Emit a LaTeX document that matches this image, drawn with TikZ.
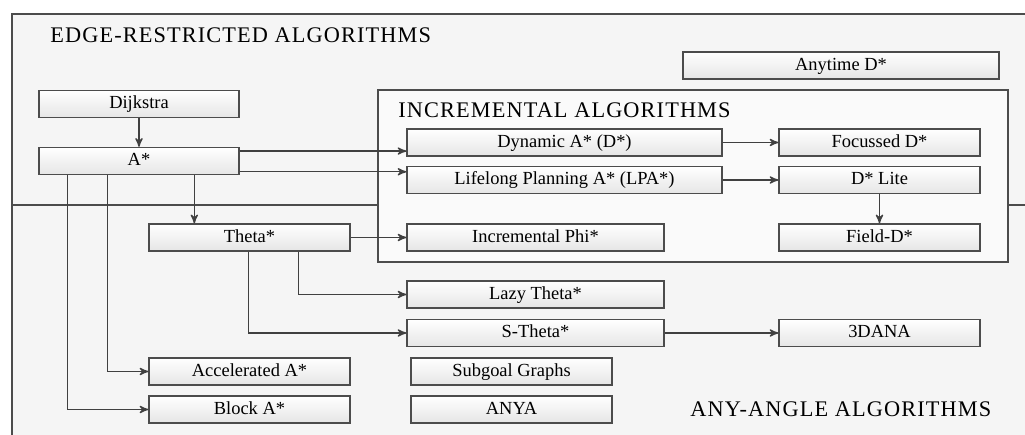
\documentclass[tikz,border=0pt]{standalone}
\usepackage{fontspec}
\setmainfont{Liberation Serif}
\newfontfamily\headfont[LetterSpace=5]{Liberation Serif}
\usetikzlibrary{arrows,calc,shadings}

\begin{document}
\begin{tikzpicture}[x=0.02cm,y=-0.02cm]
	\tikzstyle{AlgoBox}   = [shape=rectangle, draw=black!70, line width=0.8pt, top color=white, bottom color=black!10,
	                         minimum height=0.54cm, inner sep=0pt, text height=1.6ex, text depth=0.4ex,
	                         font=\fontsize{10.5}{12}\selectfont]
	\tikzstyle{EdgeStyle} = [->, >=stealth', draw=black!75, line width=0.8pt]
	\tikzstyle{Header}    = [anchor=west, inner sep=0pt, font=\headfont\fontsize{12.7}{14}\selectfont]

	\useasboundingbox (0,0) rectangle (1025,435);
	\fill[black!4] (12,14) rectangle (1025,435);
	\draw[black!70, line width=0.8pt] (12,435) -- (12,14) -- (1025,14);
	\draw[black!70, line width=0.8pt] (12,205) -- (1025,205);
	\draw[black!70, line width=0.8pt, fill=black!2] (378,90) rectangle (1008,262);

	\node[Header] (edgetitle) at (50,35)  {EDGE-RESTRICTED ALGORITHMS};
	\node[Header] (inctitle)  at (398,110) {INCREMENTAL ALGORITHMS};
	\node[Header] (angletitle) at (690,409) {ANY-ANGLE ALGORITHMS};

	\node[AlgoBox, minimum width=6.32cm] (anytime)  at (841,65.5)    {Anytime D*};
	\node[AlgoBox, minimum width=4cm]    (dijkstra) at (139,104)     {Dijkstra};
	\node[AlgoBox, minimum width=4cm]    (astar)    at (139,161)     {A*};
	\node[AlgoBox, minimum width=6.3cm]  (dynamic)  at (564.5,142.5) {Dynamic A* (D*)};
	\node[AlgoBox, minimum width=6.3cm]  (lpa)      at (564.5,180)   {Lifelong Planning A* (LPA*)};
	\node[AlgoBox, minimum width=4.02cm] (focussed) at (879.5,142.5) {Focussed D*};
	\node[AlgoBox, minimum width=4.02cm] (dlite)    at (879.5,180)   {D* Lite};
	\node[AlgoBox, minimum width=4.02cm] (field)    at (879.5,237.5) {Field-D*};
	\node[AlgoBox, minimum width=4.02cm] (theta)    at (249.5,237.5) {Theta*};
	\node[AlgoBox, minimum width=5.14cm] (phi)      at (535.5,237.5) {Incremental Phi*};
	\node[AlgoBox, minimum width=5.14cm] (lazy)     at (535.5,294.5) {Lazy Theta*};
	\node[AlgoBox, minimum width=5.14cm] (stheta)   at (535.5,333)   {S-Theta*};
	\node[AlgoBox, minimum width=4.02cm] (dana)     at (879.5,333)   {3DANA};
	\node[AlgoBox, minimum width=4.02cm] (accel)    at (249.5,371.5) {Accelerated A*};
	\node[AlgoBox, minimum width=4.02cm] (subgoal)  at (511.5,371.5) {Subgoal Graphs};
	\node[AlgoBox, minimum width=4.02cm] (block)    at (249.5,409.5) {Block A*};
	\node[AlgoBox, minimum width=4.02cm] (anya)     at (511.5,409.5) {ANYA};

	\coordinate (atodyn) at ($(astar.north east)!0.15!(astar.south east)$);
	\coordinate (atolpa) at ($(astar.north east)!0.88!(astar.south east)$);
	\coordinate (atotheta) at ($(astar.south west)+(156,0)$);
	\coordinate (atoaccel) at ($(astar.south west)+(69,0)$);
	\coordinate (atoblock) at ($(astar.south west)+(29,0)$);
	\coordinate (thtolazy) at ($(theta.south west)+(150,0)$);
	\coordinate (thtos)    at ($(theta.south west)+(100,0)$);

	\draw[EdgeStyle] (dijkstra) -- (astar);
	\draw[EdgeStyle] (atodyn) -- (dynamic.west |- atodyn);
	\draw[EdgeStyle] (atolpa) -- (lpa.west |- atolpa);
	\draw[EdgeStyle] (atotheta) -- (theta.north -| atotheta);
	\draw[EdgeStyle] (atoaccel) |- (accel.west);
	\draw[EdgeStyle] (atoblock) |- (block.west);
	\draw[EdgeStyle] (dynamic) -- (focussed);
	\draw[EdgeStyle] (lpa) -- (dlite);
	\draw[EdgeStyle] (dlite) -- (field);
	\draw[EdgeStyle] (theta) -- (phi);
	\draw[EdgeStyle] (thtolazy) |- (lazy.west);
	\draw[EdgeStyle] (thtos) |- (stheta.west);
	\draw[EdgeStyle] (stheta) -- (dana);
\end{tikzpicture}
\end{document}
